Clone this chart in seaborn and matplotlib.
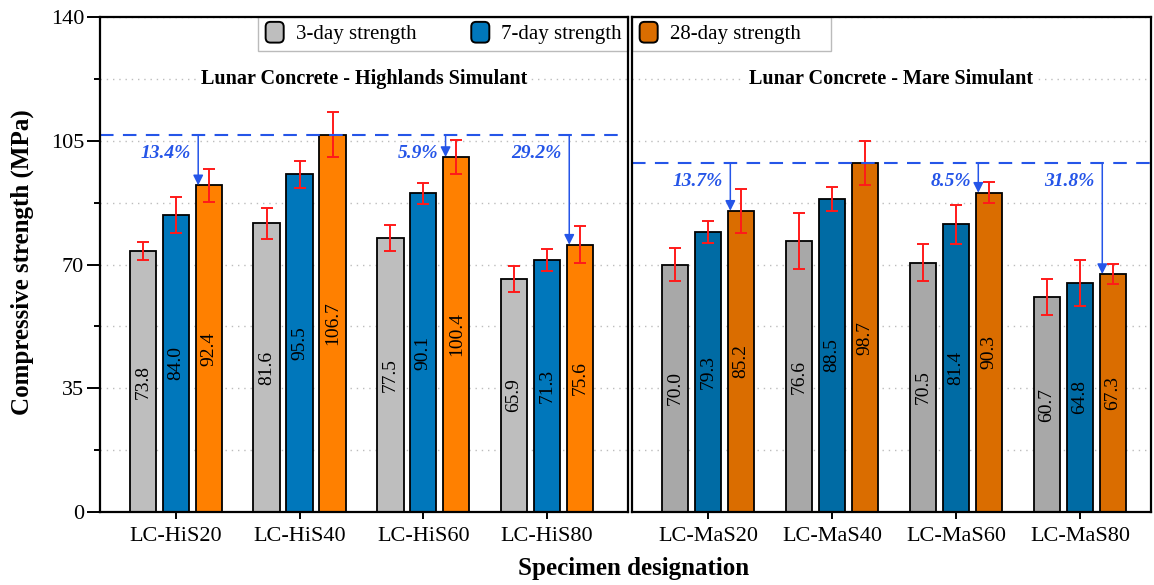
import numpy as np
import pandas as pd
import matplotlib
matplotlib.use("Agg")
import matplotlib.pyplot as plt
import seaborn as sns
from matplotlib.ticker import MultipleLocator
from matplotlib.patches import Patch, FancyBboxPatch
from matplotlib.legend_handler import HandlerPatch

# ---------------- data ----------------
ages = ["3-day strength", "7-day strength", "28-day strength"]

groups_hi = ["LC-HiS20", "LC-HiS40", "LC-HiS60", "LC-HiS80"]
hi_3 = [73.8, 81.6, 77.5, 65.9]
hi_7 = [84.0, 95.5, 90.1, 71.3]
hi_28 = [92.4, 106.7, 100.4, 75.6]
hi_err_3 = [2.5, 4.3, 3.6, 3.8]
hi_err_7 = [5.2, 3.9, 2.9, 3.0]
hi_err_28 = [4.6, 6.4, 4.8, 5.2]

groups_ma = ["LC-MaS20", "LC-MaS40", "LC-MaS60", "LC-MaS80"]
ma_3 = [70.0, 76.6, 70.5, 60.7]
ma_7 = [79.3, 88.5, 81.4, 64.8]
ma_28 = [85.2, 98.7, 90.3, 67.3]
ma_err_3 = [4.7, 7.9, 5.3, 5.1]
ma_err_7 = [3.1, 3.4, 5.5, 6.6]
ma_err_28 = [6.2, 6.1, 3.0, 2.8]

arrow_idx = [0, 2, 3]
pct_hi = ["13.4%", "5.9%", "29.2%"]
pct_ma = ["13.7%", "8.5%", "31.8%"]

title_hi = "Lunar Concrete - Highlands Simulant"
title_ma = "Lunar Concrete - Mare Simulant"

pal_hi = ["#BEBEBE", "#0077BB", "#FF8000"]
pal_ma = ["#A8A8A8", "#006BA4", "#DA6D00"]
pal_legend = ["#BEBEBE", "#0077BB", "#DA6D00"]

# ---------------- style ----------------
sns.set_theme(style="white")
plt.rcParams["font.family"] = ["Liberation Serif", "DejaVu Serif"]
for k in ["text.color", "axes.labelcolor", "xtick.color", "ytick.color",
          "axes.edgecolor"]:
    plt.rcParams[k] = "black"

W, H = 1154, 585
fig = plt.figure(figsize=(W / 100, H / 100), dpi=100)
ax1 = fig.add_axes([100 / W, 73 / H, 528 / W, 495 / H])
ax2 = fig.add_axes([632 / W, 73 / H, 519 / W, 495 / H], sharey=ax1)

BLUE = "#2555E8"


def build_df(groups, v3, v7, v28):
    rows = []
    for g, a, b, c in zip(groups, v3, v7, v28):
        rows.append((g, ages[0], a))
        rows.append((g, ages[1], b))
        rows.append((g, ages[2], c))
    return pd.DataFrame(rows, columns=["group", "age", "value"])


def draw_panel(ax, groups, vals, errs, pal, pcts, title, xlim):
    df = build_df(groups, *vals)
    sns.barplot(data=df, x="group", y="value", hue="age", hue_order=ages,
                order=groups, palette=pal, gap=0.2, errorbar=None,
                edgecolor="black", linewidth=1.3, ax=ax, legend=False,
                saturation=1)
    for cont, err in zip(ax.containers, errs):
        xs = [p.get_x() + p.get_width() / 2 for p in cont.patches]
        ys = [p.get_height() for p in cont.patches]
        ax.errorbar(xs, ys, yerr=err, fmt="none", ecolor="#FF1A1A",
                    elinewidth=1.4, capsize=4, capthick=1.4, zorder=4)
        ax.bar_label(cont, fmt="%.1f", label_type="center", rotation=90,
                     fontsize=14, color="black")
    ax.set_xlim(*xlim)
    ax.set_ylim(0, 140)
    ax.set_xlabel("")
    ax.set_ylabel("")
    ax.yaxis.set_major_locator(MultipleLocator(35))
    ax.yaxis.set_minor_locator(MultipleLocator(17.5))
    ax.grid(True, axis="y", which="both", linestyle=(0, (1, 3.5)),
            color="#BDBDBD", linewidth=1.0)
    ax.set_axisbelow(True)
    for s in ax.spines.values():
        s.set_color("black")
        s.set_linewidth(1.6)
        s.set_visible(True)
        s.set_zorder(10)
    ax.tick_params(axis="x", which="major", direction="out", length=5,
                   width=1.4, color="black", labelsize=16, pad=6, bottom=True,
                   labelcolor="black")
    # reference line & arrows
    v28 = vals[2]
    ref = max(v28)
    ax.axhline(ref, color=BLUE, linestyle=(0, (6.5, 4.5)), linewidth=1.5,
               zorder=5)
    orange = ax.containers[2].patches
    for i, lab in zip(arrow_idx, pcts):
        p = orange[i]
        xa = p.get_x() + 0.02
        ax.annotate("", xy=(xa, p.get_height()), xytext=(xa, ref),
                    arrowprops=dict(arrowstyle="-|>", color=BLUE, lw=1.1,
                                    mutation_scale=15, shrinkA=0, shrinkB=0),
                    zorder=6)
        ax.text(xa - 0.06, ref - 5.2, lab, ha="right", va="center",
                fontsize=14, fontweight="bold", fontstyle="italic",
                color=BLUE, zorder=6)
    ax.text(0.5, 122.5, title, transform=ax.get_yaxis_transform(),
            ha="center", va="center", fontsize=14.5, fontweight="bold",
            color="black",
            bbox=dict(facecolor="white", edgecolor="none", pad=3), zorder=5)


draw_panel(ax1, groups_hi, (hi_3, hi_7, hi_28),
           (hi_err_3, hi_err_7, hi_err_28), pal_hi, pct_hi, title_hi,
           (-0.614, 3.655))
draw_panel(ax2, groups_ma, (ma_3, ma_7, ma_28),
           (ma_err_3, ma_err_7, ma_err_28), pal_ma, pct_ma, title_ma,
           (-0.613, 3.573))

ax1.tick_params(axis="y", which="major", direction="out", length=9.5,
                width=1.4, color="black", labelsize=16, pad=2, left=True,
                labelcolor="black")
ax1.tick_params(axis="y", which="minor", direction="out", length=4.5,
                width=1.4, color="black", left=True)
ax2.tick_params(axis="y", which="both", left=False, labelleft=False)


# legend with rounded handles
class RoundHandler(HandlerPatch):
    def create_artists(self, legend, orig_handle, xdescent, ydescent,
                       width, height, fontsize, trans):
        p = FancyBboxPatch((-xdescent + 1, -ydescent - 1), width - 2, height + 2,
                           boxstyle="round,pad=0,rounding_size=3.5",
                           facecolor=orig_handle.get_facecolor(),
                           edgecolor="black", linewidth=1.4,
                           transform=trans)
        return [p]


handles = [Patch(facecolor=c, edgecolor="black", label=a)
           for c, a in zip(pal_legend, ages)]
leg_kw = dict(fontsize=15, frameon=True, fancybox=False, edgecolor="#AAAAAA",
              borderaxespad=0, borderpad=0.3, handlelength=1.0,
              handleheight=0.95, handletextpad=0.5, columnspacing=1.5,
              mode="expand", handler_map={Patch: RoundHandler()})

ax1_w = 528
l0 = (258 - 100) / ax1_w
leg1 = ax1.legend(handles=handles[:2], loc="upper left", ncol=2,
                  bbox_to_anchor=(l0, 0.0, 1.0 - l0, 1.0), **leg_kw)
leg1.get_frame().set_linewidth(1.0)
leg1.set_zorder(5)
for t in leg1.get_texts():
    t.set_color("black")

leg2 = ax2.legend(handles=handles[2:], loc="upper left", ncol=1,
                  bbox_to_anchor=(0.0, 0.0, (831 - 632) / 519, 1.0), **leg_kw)
leg2.get_frame().set_linewidth(1.0)
leg2.set_zorder(5)
for t in leg2.get_texts():
    t.set_color("black")

fig.text(22 / W, 1 - 262 / H, "Compressive strength (MPa)", rotation=90,
         ha="center", va="center", fontsize=18, fontweight="bold",
         color="black")
fig.text(634 / W, 1 - 569 / H, "Specimen designation", ha="center",
         va="center", fontsize=18, fontweight="bold", color="black")

fig.savefig("out.png", dpi=100, facecolor="white")
